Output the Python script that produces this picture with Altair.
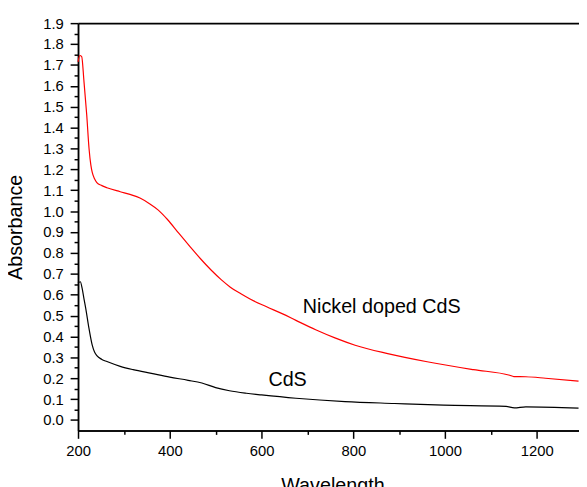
import altair as alt
import pandas as pd

# Nickel doped CdS (red)
wl_ni = [200, 204, 208, 213, 219, 224, 228, 231, 236, 241, 252, 263, 292, 315, 335, 355,
         375, 395, 420, 445, 467, 490, 512, 532, 555, 575, 610, 646, 675, 718, 760, 804,
         875, 961, 1062, 1141, 1150, 1176, 1219, 1291]
abs_ni = [1.715, 1.745, 1.74, 1.62, 1.46, 1.30, 1.22, 1.185, 1.155, 1.137, 1.122, 1.112, 1.093,
          1.079, 1.063, 1.037, 1.005, 0.960, 0.893, 0.828, 0.772, 0.718, 0.672, 0.636, 0.604,
          0.579, 0.543, 0.508, 0.477, 0.432, 0.393, 0.358, 0.318, 0.279, 0.241, 0.214, 0.208,
          0.207, 0.200, 0.186]

# CdS (black)
wl_cds = [200, 205, 209, 213, 217, 224, 231, 236, 241, 252, 263, 292, 320, 360, 400, 440,
          470, 500, 530, 567, 600, 675, 782, 890, 997, 1133, 1151, 1176, 1291]
abs_cds = [0.655, 0.662, 0.63, 0.58, 0.532, 0.437, 0.358, 0.325, 0.308, 0.29, 0.28, 0.257,
           0.241, 0.223, 0.205, 0.19, 0.177, 0.155, 0.140, 0.128, 0.12, 0.104, 0.088, 0.079,
           0.071, 0.065, 0.058, 0.063, 0.057]

# annotations
ann_text = ["Nickel doped CdS", "CdS"]
ann_x = [690, 615]
ann_y = [0.511, 0.162]

x_major = [200, 400, 600, 800, 1000, 1200]
x_minor = [300, 500, 700, 900, 1100]
y_major = [round(i * 0.1, 1) for i in range(20)]
y_minor = [round(0.05 + i * 0.1, 2) for i in range(19)]

FONT = "Liberation Sans"

df_ni = pd.DataFrame({"Wavelength": wl_ni, "Absorbance": abs_ni})
df_cds = pd.DataFrame({"Wavelength": wl_cds, "Absorbance": abs_cds})
df_ann = pd.DataFrame({"label": ann_text, "Wavelength": ann_x, "Absorbance": ann_y})

xs = alt.Scale(domain=[200, 1292], nice=False, zero=False)
ys = alt.Scale(domain=[-0.05, 1.9], nice=False, zero=False)

common = dict(domainColor="black", tickColor="black", labelColor="black", titleColor="black",
              grid=False, labelFont=FONT, titleFont=FONT, labelFontSize=15, titleFontSize=20,
              titleFontWeight="normal", domainWidth=1.5, tickWidth=1.5, labelFlush=False)

ax_x_major = alt.Axis(values=x_major, title="Wavelength", orient="bottom", tickSize=8,
                      labelPadding=5, titlePadding=18, titleX=258, format="d", **common)
ax_y_major = alt.Axis(values=y_major, title="Absorbance", orient="left", tickSize=8,
                      labelPadding=7, titlePadding=17, format=".1f", **common)
ax_x_minor = alt.Axis(values=x_minor, title=None, orient="bottom", tickSize=4, labels=False,
                      **common)
ax_y_minor = alt.Axis(values=y_minor, title=None, orient="left", tickSize=4, labels=False,
                      **common)
ax_x_top = alt.Axis(title=None, orient="top", ticks=False, labels=False,
                    domainColor="black", domainWidth=2, grid=False)

red = alt.Chart(df_ni).mark_line(color="#ff0000", strokeWidth=1.2, interpolate="monotone").encode(
    x=alt.X("Wavelength:Q", scale=xs, axis=ax_x_major),
    y=alt.Y("Absorbance:Q", scale=ys, axis=ax_y_major),
)

black = alt.Chart(df_cds).mark_line(color="black", strokeWidth=1.2, interpolate="monotone").encode(
    x=alt.X("Wavelength:Q", scale=xs, axis=ax_x_minor),
    y=alt.Y("Absorbance:Q", scale=ys, axis=ax_y_minor),
)

text = alt.Chart(df_ann).mark_text(align="left", baseline="alphabetic", fontSize=20,
                                    font=FONT, color="black").encode(
    x=alt.X("Wavelength:Q", scale=xs, axis=ax_x_top),
    y=alt.Y("Absorbance:Q", scale=ys, axis=None),
    text="label:N",
)

chart = alt.layer(red, black, text).resolve_axis(
    x="independent", y="independent"
).properties(
    width=508, height=413,
    padding={"left": 71, "top": 12, "right": 0, "bottom": 54},
    autosize=alt.AutoSizeParams(type="none"),
    background="white",
).configure_view(stroke=None)

chart.save("out.html", embed_options={"renderer": "svg", "actions": False})
